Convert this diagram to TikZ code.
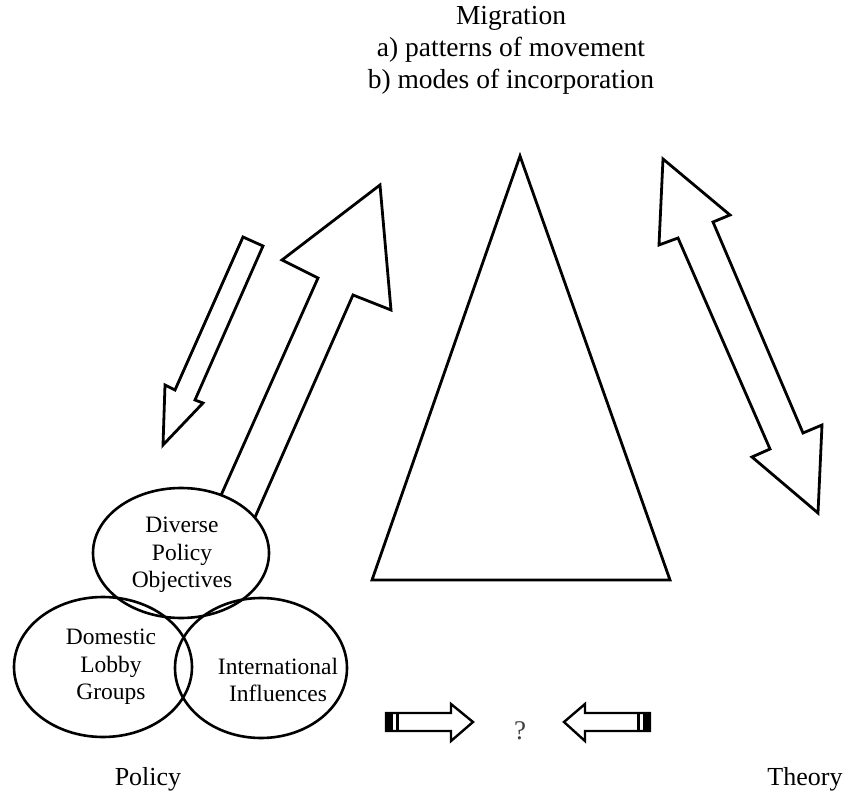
\documentclass[tikz,border=0pt]{standalone}
\usepackage{fontspec}
\setmainfont{Liberation Serif}
\usetikzlibrary{shapes.geometric}

\begin{document}
\begin{tikzpicture}[x=1pt,y=-1pt]
       \tikzstyle{outline} = [draw=black, line width=2.8pt, line join=miter, fill=white];
       \tikzstyle{smallarrow} = [draw=black, line width=2.4pt, line join=miter, fill=white];
       \tikzstyle{bubble} = [ellipse, draw=black, line width=2.6pt, inner sep=0pt];
       \tikzstyle{bubbletext} = [align=center, font=\fontsize{23.5}{27.5}\selectfont];
       \tikzstyle{caption} = [font=\fontsize{26}{30}\selectfont];
       \useasboundingbox (0,0) rectangle (847,797);

       % title
       \node[align=center, font=\fontsize{27.5}{32}\selectfont] (migration) at (511,50)
         {Migration\\a) patterns of movement\\b) modes of incorporation};

       % triangle
       \draw[outline] (520,156) -- (670,580) -- (372,580) -- cycle;

       % policy -> migration
       \draw[outline] (210,520) -- (318,278) -- (282,260) -- (380,185) -- (391,310)
         -- (353,295) -- (245,540) -- cycle;
       % migration -> policy
       \draw[outline] (243,237) -- (263,246) -- (195,400) -- (203,403) -- (163,445)
         -- (165,385) -- (175,390) -- cycle;
       % migration <-> theory
       \draw[outline] (663,159) -- (730,215) -- (713,222) -- (803,433) -- (822,425)
         -- (818,513) -- (752,457) -- (770,449) -- (678,238) -- (659,245) -- cycle;

       % policy bubbles
       \node[bubble, fill=white, minimum width=176, minimum height=130] (diverse) at (181,553) {};
       \node[bubble, minimum width=178, minimum height=140] (domestic) at (103,667) {};
       \node[bubble, minimum width=172, minimum height=140] (international) at (261,668) {};
       \node[bubbletext] (diversetext) at (182,555) {Diverse\\Policy\\Objectives};
       \node[bubbletext] (domestictext) at (111,667) {Domestic\\Lobby\\Groups};
       \node[bubbletext] (internationaltext) at (278,680) {International\\Influences};

       % small arrows
       \draw[smallarrow] (386,713) -- (451,713) -- (451,704) -- (473,722) -- (451,741)
         -- (451,731) -- (386,731) -- cycle;
       \fill[black] (386,713) rectangle (393,731);
       \fill[black] (396,713) rectangle (399,731);
       \draw[smallarrow] (650,713) -- (585,713) -- (585,704) -- (564,722) -- (585,741)
         -- (585,731) -- (650,731) -- cycle;
       \fill[black] (650,713) rectangle (643,731);
       \fill[black] (640,713) rectangle (637,731);
       \node[font=\fontsize{27}{30}\selectfont, text=black!75] (question) at (520,731) {?};

       \node[caption] (policy) at (148,779) {Policy};
       \node[caption] (theory) at (805,779) {Theory};
\end{tikzpicture}
\end{document}
